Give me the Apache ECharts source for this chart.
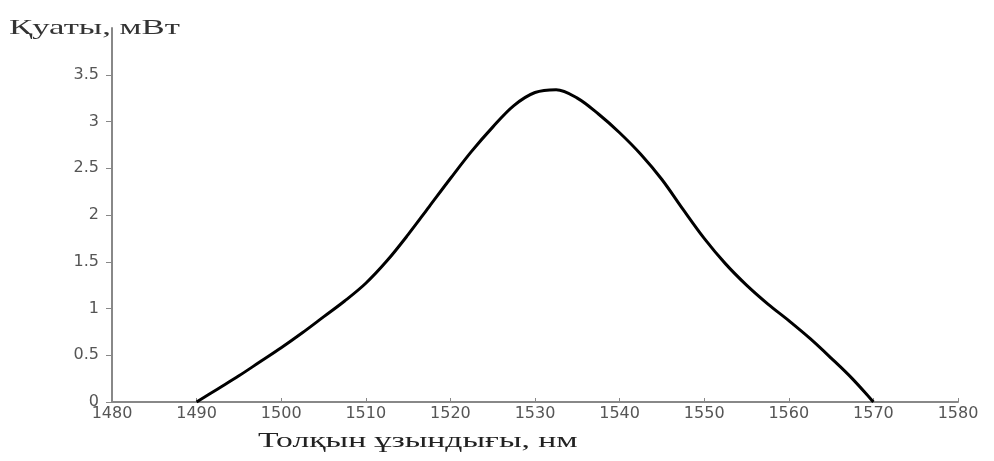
<!DOCTYPE html>
<html>
<head>
<meta charset="utf-8">
<script src="https://cdn.jsdelivr.net/npm/echarts@6/dist/echarts.min.js"></script>
<style>
  html, body { margin: 0; padding: 0; background: #fff; }
  #chart { width: 994px; height: 461px; }
</style>
</head>
<body>
<div id="chart"></div>
<script>
// wavelength (nm) and power (mW), every 2.5 nm
var wavelengths = [1490, 1492.5, 1495, 1497.5, 1500, 1502.5, 1505, 1507.5, 1510, 1512.5, 1515, 1517.5,
                   1520, 1522.5, 1525, 1527.5, 1530, 1532.5, 1535, 1537.5, 1540, 1542.5, 1545, 1547.5,
                   1550, 1552.5, 1555, 1557.5, 1560, 1562.5, 1565, 1567.5, 1570];
var power       = [0,    0.14,   0.28, 0.43,   0.58, 0.74,   0.91, 1.08,   1.27, 1.51,   1.79, 2.09,
                   2.39, 2.68,   2.94, 3.17,   3.31, 3.34,   3.25, 3.08,   2.88, 2.65,   2.38, 2.06,
                   1.75, 1.48,   1.25, 1.05,   0.87, 0.68,   0.47, 0.25,   0];
var yTicks = [0, 0.5, 1, 1.5, 2, 2.5, 3, 3.5];
var yName = 'Қуаты, мВт';
var xName = 'Толқын ұзындығы, нм';

var chart = echarts.init(document.getElementById('chart'));
var labelStyle = { color: '#555', fontFamily: 'DejaVu Sans', fontSize: 16 };
var nameFont = '22px "Liberation Serif"';

chart.setOption({
  animation: false,
  // the original uses a very wide serif for the axis names, so stretch them
  graphic: [
    { type: 'text', x: 9, y: 28, scaleX: 1.58,
      style: { text: yName, font: nameFont, fill: '#333', textVerticalAlign: 'middle' } },
    { type: 'text', x: 258, y: 441, scaleX: 1.53,
      style: { text: xName, font: nameFont, fill: '#222', textVerticalAlign: 'middle' } }
  ],
  grid: { left: 112, right: 36, top: 28, bottom: 59 },
  xAxis: {
    type: 'value', min: 1480, max: 1580, interval: 10,
    axisLine: { lineStyle: { color: '#888', width: 2 } },
    axisTick: { inside: true, length: 4, lineStyle: { color: '#888' } },
    axisLabel: Object.assign({ margin: 4, formatter: function (v) { return String(v); } }, labelStyle),
    splitLine: { show: false }
  },
  yAxis: {
    type: 'value', min: 0, max: 4,
    axisLine: { show: true, lineStyle: { color: '#888', width: 2 } },
    axisTick: { show: true, length: 6, customValues: yTicks, lineStyle: { color: '#888' } },
    axisLabel: Object.assign({ margin: 13, customValues: yTicks }, labelStyle),
    splitLine: { show: false }
  },
  series: [{
    type: 'line',
    data: wavelengths.map(function (w, i) { return [w, power[i]]; }),
    smooth: 0.35,
    showSymbol: false,
    lineStyle: { color: '#000', width: 3 }
  }]
});
</script>
</body>
</html>
